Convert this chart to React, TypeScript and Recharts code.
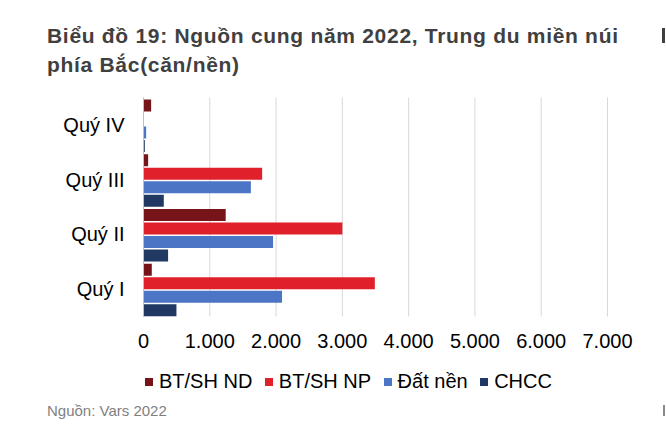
import { BarChart, Bar, XAxis, YAxis, CartesianGrid, Legend } from 'recharts';

const categories = ['Quý IV', 'Quý III', 'Quý II', 'Quý I'];
const btshNd = [115, 70, 1240, 125];
const btshNp = [0, 1790, 3000, 3490];
const datNen = [40, 1620, 1955, 2090];
const chcc = [20, 306, 371, 497];
const xTicks = [0, 1000, 2000, 3000, 4000, 5000, 6000, 7000];

const SERIES = [
  { key: 'nd', name: 'BT/SH ND', color: '#76141a' },
  { key: 'np', name: 'BT/SH NP', color: '#e0202a' },
  { key: 'dn', name: 'Đất nền', color: '#4d75c5' },
  { key: 'chcc', name: 'CHCC', color: '#203862' },
];

const data = categories.map((cat, i) => ({
  cat,
  nd: btshNd[i],
  np: btshNp[i],
  dn: datNen[i],
  chcc: chcc[i],
}));

const FONT = '"Liberation Sans", Arial, sans-serif';

const fmt = (v: number) => String(v).replace(/\B(?=(\d{3})+(?!\d))/g, '.');

// keep the legend in series order (recharts sorts the payload by name)
const renderLegend = () => (
  <div style={{ display: 'flex', alignItems: 'center', fontSize: 20, lineHeight: '20px', color: '#000', whiteSpace: 'nowrap' }}>
    {SERIES.map((s) => (
      <span key={s.key} style={{ display: 'inline-flex', alignItems: 'center', marginRight: 12.5 }}>
        <span style={{ width: 8, height: 8, background: s.color, marginRight: 6, marginTop: 2 }} />
        {s.name}
      </span>
    ))}
  </div>
);

export default function App() {
  return (
    <div
      style={{
        position: 'absolute',
        left: 0,
        top: 0,
        width: 666,
        height: 425,
        overflow: 'hidden',
        background: '#fff',
        fontFamily: FONT,
      }}
    >
      <BarChart
        width={666}
        height={425}
        data={data}
        layout="vertical"
        margin={{ top: 97.5, right: 58.5, bottom: 78.5, left: 0.5 }}
        barCategoryGap={2}
        barGap={1.5}
      >
        <CartesianGrid horizontal={false} stroke="#d9d9d9" />
        <XAxis
          type="number"
          domain={[0, 7000]}
          ticks={xTicks}
          interval={0}
          height={30}
          axisLine={false}
          tickLine={false}
          tickSize={0}
          tickMargin={17}
          tick={{ fill: '#000', fontSize: 20 }}
          tickFormatter={fmt}
        />
        <YAxis
          type="category"
          dataKey="cat"
          width={143}
          interval={0}
          axisLine={{ stroke: '#bfbfbf' }}
          tickLine={false}
          tickSize={0}
          tickMargin={19}
          tick={{ fill: '#000', fontSize: 20 }}
        />
        <Legend
          layout="horizontal"
          verticalAlign="middle"
          align="center"
          wrapperStyle={{ left: 145, top: 371, width: 'auto', height: 'auto' }}
          content={renderLegend}
        />
        {SERIES.map((s) => (
          <Bar key={s.key} dataKey={s.key} name={s.name} fill={s.color} isAnimationActive={false} />
        ))}
      </BarChart>

      <div
        style={{
          position: 'absolute',
          left: 47,
          top: 21,
          fontSize: 21,
          lineHeight: '29px',
          fontWeight: 'bold',
          letterSpacing: 0.7,
          color: '#404040',
          whiteSpace: 'nowrap',
        }}
      >
        Biểu đồ 19: Nguồn cung năm 2022, Trung du miền núi
        <br />
        phía Bắc(căn/nền)
      </div>
      {/* slivers of the neighbouring column at the right edge */}
      <div style={{ position: 'absolute', left: 662, top: 28, width: 3, height: 15, background: '#404040' }} />
      <div style={{ position: 'absolute', left: 663, top: 405, width: 2, height: 11, background: '#8a8a8a' }} />

      <div style={{ position: 'absolute', left: 47, top: 402, fontSize: 15, lineHeight: '17px', color: '#7f7f7f', whiteSpace: 'nowrap' }}>
        Nguồn: Vars 2022
      </div>
    </div>
  );
}
